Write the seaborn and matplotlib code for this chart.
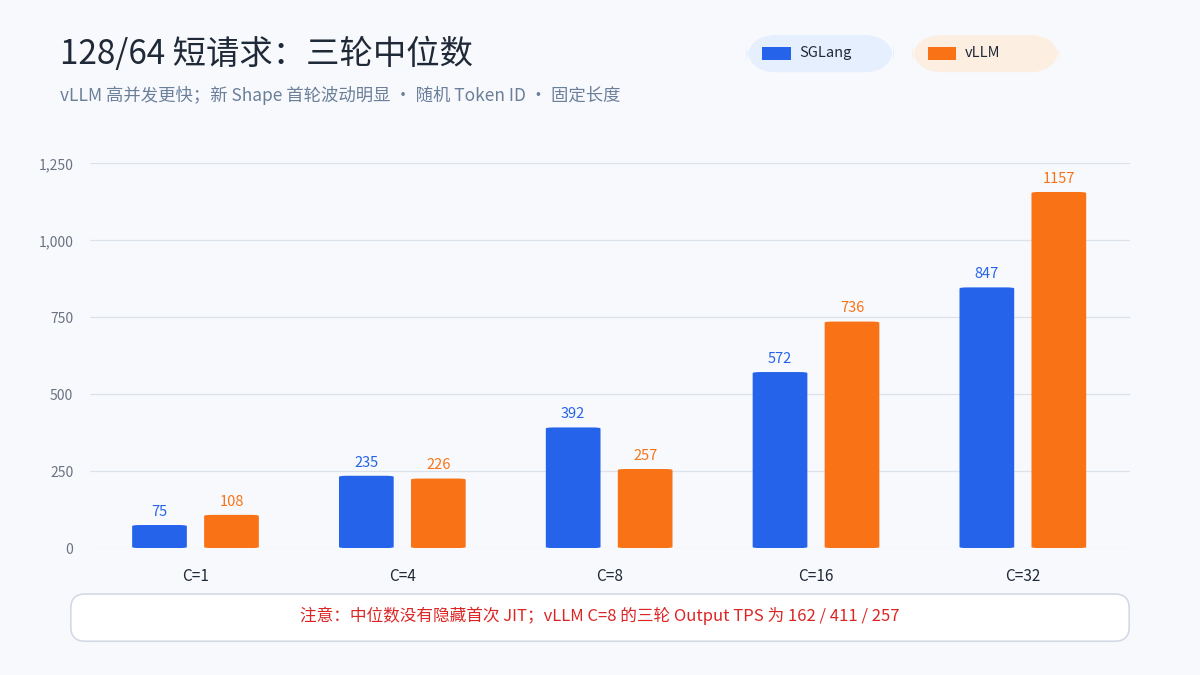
import matplotlib
matplotlib.use("Agg")
import matplotlib.pyplot as plt
from matplotlib.patches import FancyBboxPatch
import seaborn as sns
import pandas as pd

# data
categories = ["C=1", "C=4", "C=8", "C=16", "C=32"]
sglang = [75, 235, 392, 572, 847]
vllm = [108, 226, 257, 736, 1157]
series = ["SGLang", "vLLM"]
colors = {"SGLang": "#2563eb", "vLLM": "#f97316"}
yticks = [0, 250, 500, 750, 1000, 1250]

df = pd.DataFrame({
    "cat": categories * 2,
    "val": sglang + vllm,
    "series": ["SGLang"] * 5 + ["vLLM"] * 5,
})

sns.set_theme(style="white")
plt.rcParams["font.family"] = ["Noto Sans CJK SC", "DejaVu Sans"]

BG = "#f7f9fd"
fig = plt.figure(figsize=(12, 6.75), dpi=100, facecolor=BG)
ax = fig.add_axes([0.075, 0.188, 0.867, 0.570], facecolor=BG)

sns.barplot(data=df, x="cat", y="val", hue="series", palette=colors,
            width=0.696, gap=0.24, ax=ax, legend=False, saturation=1)

# swap bars for rounded ones
for p in list(ax.patches):
    x, y, w, h = p.get_x(), p.get_y(), p.get_width(), p.get_height()
    fc = p.get_facecolor()
    p.remove()
    ax.add_patch(FancyBboxPatch((x, y), w, h,
                                boxstyle="round,pad=0,rounding_size=0.04",
                                mutation_aspect=1250 / 5.03 * 0.57 * 6.75 / (0.867 * 12),
                                fc=fc, ec="none", zorder=3))
    ax.text(x + w / 2, h + 20, f"{int(round(h))}", ha="center", va="bottom",
            fontsize=10.5, color=fc, zorder=4)

ax.set_xlim(-0.51, 4.52)
ax.set_ylim(0, 1250)
ax.set_yticks(yticks)
ax.set_yticklabels([f"{v:,}" for v in yticks], fontsize=10, color="#6b7280")
ax.tick_params(axis="x", labelsize=11, colors="#1f2937", length=0, pad=14)
ax.tick_params(axis="y", length=0, pad=12)
ax.grid(axis="y", color="#dde2ea", lw=0.9, zorder=0)
ax.set_axisbelow(True)
ax.set_xlabel("")
ax.set_ylabel("")
sns.despine(ax=ax, left=True, bottom=True)

# titles
fig.text(0.05, 0.92, "128/64 短请求：三轮中位数", fontsize=24, color="#1f2937", va="center")
fig.text(0.05, 0.858, "vLLM 高并发更快；新 Shape 首轮波动明显 · 随机 Token ID · 固定长度",
         fontsize=12.5, color="#6b7f99", va="center")

# legend pills
for x0, name, pill in [(0.622, "SGLang", "#e6effd"), (0.76, "vLLM", "#fdeee2")]:
    fig.patches.append(FancyBboxPatch((x0, 0.893), 0.123, 0.055,
                                      boxstyle="round,pad=0,rounding_size=0.025",
                                      mutation_aspect=12 / 6.75,
                                      transform=fig.transFigure, fc=pill, ec="none"))
    fig.patches.append(plt.Rectangle((x0 + 0.013, 0.911), 0.024, 0.02,
                                     transform=fig.transFigure, fc=colors[name], ec="none"))
    fig.text(x0 + 0.044, 0.921, name, fontsize=10.5, color="#1f2937", va="center")

# note box
fig.patches.append(FancyBboxPatch((0.059, 0.05), 0.882, 0.07,
                                  boxstyle="round,pad=0,rounding_size=0.012",
                                  mutation_aspect=12 / 6.75,
                                  transform=fig.transFigure, fc="white",
                                  ec="#d3d9e4", lw=1.2))
fig.text(0.5, 0.087, "注意：中位数没有隐藏首次 JIT；vLLM C=8 的三轮 Output TPS 为 162 / 411 / 257",
         ha="center", va="center", fontsize=12, color="#dc2626")

fig.savefig("out.png", dpi=100, facecolor=BG)
